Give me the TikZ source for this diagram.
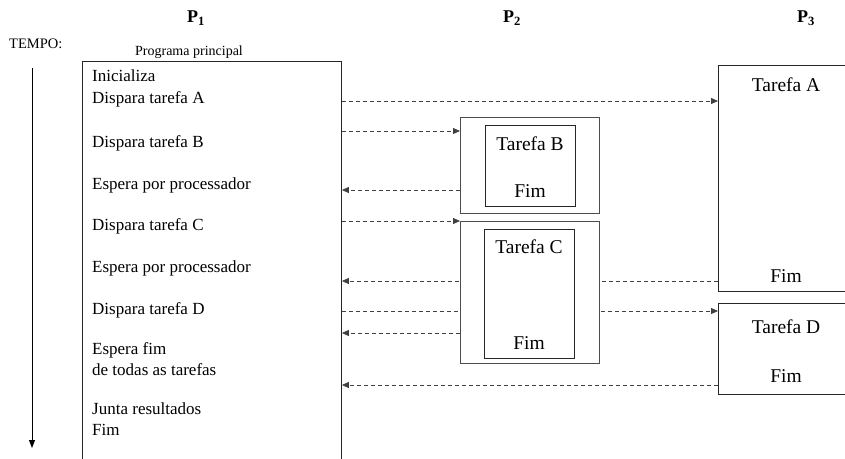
\documentclass[tikz,border=0pt]{standalone}
\usepackage{fontspec}
\setmainfont{Liberation Serif}
\usetikzlibrary{arrows.meta}
\begin{document}
\begin{tikzpicture}[x=1pt,y=-1pt,
  txt/.style={font=\fontsize{17}{21.5}\selectfont, inner sep=0pt, align=left},
  ctxt/.style={font=\fontsize{19.5}{22}\selectfont, inner sep=0pt},
  ptitle/.style={font=\fontsize{18}{20}\selectfont\bfseries, inner sep=0pt},
  box/.style={draw=black!85, line width=0.9pt, fill=white, inner sep=0pt, anchor=north west},
  obox/.style={draw=black!70, line width=0.9pt, fill=white, inner sep=0pt, anchor=north west},
  msg/.style={draw=black!75, line width=0.8pt, dash pattern=on 4pt off 3pt, -{Triangle[length=7pt,width=6pt]}}
]
\clip (0,0) rectangle (845,458);
\fill[white] (0,0) rectangle (845,458);

% titles
\node[ptitle] (p1) at (196,18) {P$_\mathbf{1}$};
\node[ptitle] (p2) at (512,18) {P$_\mathbf{2}$};
\node[ptitle] (p3) at (806,18) {P$_\mathbf{3}$};
\node[font=\fontsize{14.5}{16}\selectfont, inner sep=0pt, anchor=west] (tempo) at (9,44) {TEMPO:};
\node[font=\fontsize{14}{15}\selectfont, inner sep=0pt] (pp) at (189,52) {Programa principal};

% time arrow
\coordinate (t0) at (32,68);
\coordinate (t1) at (32,448);
\draw[line width=0.9pt, -{Triangle[length=8pt,width=6pt]}] (t0) -- (t1);

% main box and P3 boxes
\node[box, minimum width=259pt, minimum height=420pt] (main) at (82,61) {};
\node[box, minimum width=150pt, minimum height=226pt] (ta) at (718,65) {};
\node[box, minimum width=150pt, minimum height=91pt] (td) at (718,303) {};

% message levels
\coordinate (yA) at (0,101);
\coordinate (yB) at (0,131);
\coordinate (yBr) at (0,190);
\coordinate (yC) at (0,221);
\coordinate (yAr) at (0,281);
\coordinate (yD) at (0,311);
\coordinate (yCr) at (0,333);
\coordinate (yDr) at (0,385);

% P2 outer boxes (for anchors)
\node[obox, minimum width=139pt, minimum height=96pt] (bout) at (460,117) {};
\node[obox, minimum width=139pt, minimum height=142pt] (cout) at (460,221) {};

\draw[msg] (main.east |- yA) -- (ta.west |- yA);
\draw[msg] (main.east |- yB) -- (bout.west |- yB);
\draw[msg] (bout.west |- yBr) -- (main.east |- yBr);
\draw[msg] (main.east |- yC) -- (cout.west |- yC);
\draw[msg] (ta.west |- yAr) -- (main.east |- yAr);
\draw[msg] (main.east |- yD) -- (td.west |- yD);
\draw[msg] (cout.west |- yCr) -- (main.east |- yCr);
\draw[msg] (td.west |- yDr) -- (main.east |- yDr);

% P2 boxes redrawn on top so messages pass behind
\node[obox, minimum width=139pt, minimum height=96pt] (bout2) at (460,117) {};
\node[box, minimum width=90pt, minimum height=81pt] (bin) at (484.5,125) {};
\node[obox, minimum width=139pt, minimum height=142pt] (cout2) at (460,221) {};
\node[box, minimum width=90pt, minimum height=129pt] (cin) at (484,229) {};

% main program text
\node[txt, anchor=north west] (s1) at (92,70) {Inicializa\\Dispara tarefa A};
\node[txt, anchor=west] (s2) at (92,143) {Dispara tarefa B};
\node[txt, anchor=west] (s3) at (92,185) {Espera por processador};
\node[txt, anchor=west] (s4) at (92,226) {Dispara tarefa C};
\node[txt, anchor=west] (s5) at (92,268) {Espera por processador};
\node[txt, anchor=west] (s6) at (92,310) {Dispara tarefa D};
\node[txt, anchor=north west] (s7) at (92,342) {Espera fim\\de todas as tarefas};
\node[txt, anchor=north west] (s8) at (92,402) {Junta resultados\\Fim};

% task texts
\node[ctxt] (tb) at (530,144) {Tarefa B};
\node[ctxt] (fb) at (530,191) {Fim};
\node[ctxt] (tc) at (529,247) {Tarefa C};
\node[ctxt] (fc) at (529,343) {Fim};
\node[ctxt] (tA) at (786,85) {Tarefa A};
\node[ctxt] (fA) at (786,276) {Fim};
\node[ctxt] (tD) at (786,327) {Tarefa D};
\node[ctxt] (fD) at (786,376) {Fim};
\end{tikzpicture}
\end{document}
